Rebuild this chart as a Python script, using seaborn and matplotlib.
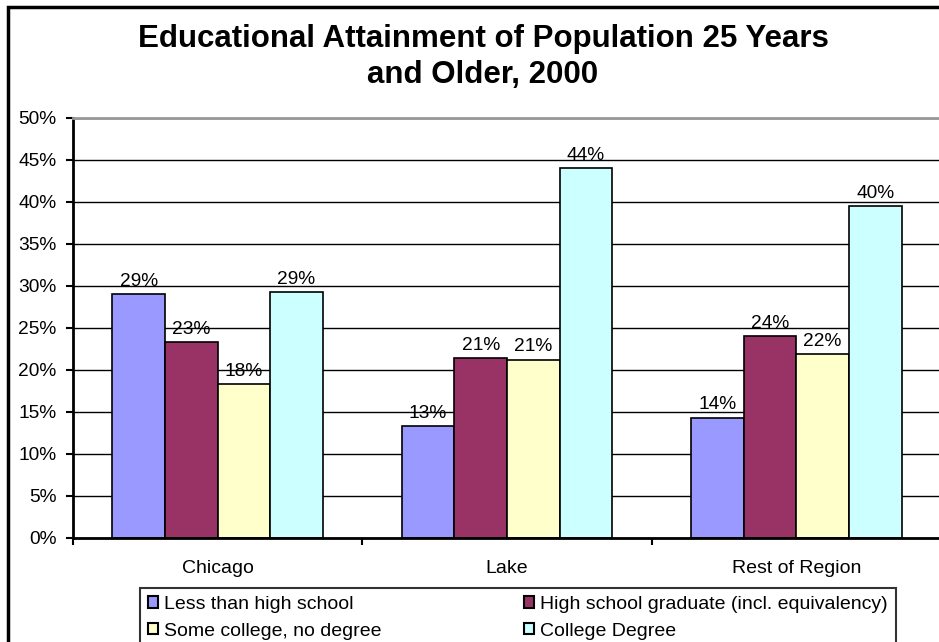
import matplotlib
matplotlib.use('Agg')
import matplotlib.pyplot as plt
import matplotlib.patches as mpatches
import pandas as pd
import seaborn as sns

# Data (share of population 25+, in %)
regions = ['Chicago', 'Lake', 'Rest of Region']
levels = ['Less than high school', 'High school graduate (incl. equivalency)',
          'Some college, no degree', 'College Degree']
less_than_hs = [29.0, 13.3, 14.3]
hs_graduate = [23.3, 21.4, 24.0]
some_college = [18.3, 21.2, 21.9]
college_degree = [29.2, 44.0, 39.5]
colors = ['#9999FF', '#993366', '#FFFFCC', '#CCFFFF']

df = pd.DataFrame({'region': regions * 4,
                   'level': [l for l in levels for _ in regions],
                   'value': less_than_hs + hs_graduate + some_college + college_degree})

sns.set_style('white')
plt.rcParams['font.family'] = ['Liberation Sans', 'DejaVu Sans']
plt.rcParams['text.color'] = 'black'
plt.rcParams['xtick.color'] = 'black'
plt.rcParams['ytick.color'] = 'black'

fig = plt.figure(figsize=(9.39, 6.42), dpi=100)
ax = fig.add_axes([73 / 939, 1 - 537.7 / 642, 868 / 939, 420 / 642])

sns.barplot(data=df, x='region', y='value', hue='level', order=regions, hue_order=levels,
            palette=colors, width=0.727, edgecolor='black', linewidth=1.2, saturation=1,
            ax=ax, legend=False)

# value labels above bars
for cont in ax.containers:
    ax.bar_label(cont, labels=[f'{v:.0f}%' for v in cont.datavalues], padding=3, fontsize=13.8)

ax.set_ylim(0, 50)
ax.set_xlim(-0.5, 2.5)
ax.set_yticks(range(0, 51, 5))
ax.set_yticklabels([f'{t}%' for t in range(0, 51, 5)], fontsize=13.8)
ax.yaxis.grid(True, color='black', linewidth=1)
ax.set_axisbelow(True)
ax.set_xlabel('')
ax.set_ylabel('')
ax.tick_params(axis='y', which='major', length=5, width=1.5, color='black', direction='out', left=True, pad=7)
ax.tick_params(axis='x', which='major', length=0, labelsize=14, pad=16)
ax.set_xticks([-0.5, 0.5, 1.5, 2.5], minor=True)
ax.tick_params(axis='x', which='minor', length=5, width=1.5, color='black', direction='out', bottom=True)

for side in ['left', 'bottom']:
    ax.spines[side].set_color('black')
    ax.spines[side].set_linewidth(2)
for side in ['top', 'right']:
    ax.spines[side].set_color('#999999')
    ax.spines[side].set_linewidth(2)

fig.text(483 / 939, 1 - 57 / 642, 'Educational Attainment of Population 25 Years\nand Older, 2000',
         ha='center', va='center', fontsize=22.5, fontweight='bold', linespacing=1.22)

# legend, column-wise order for two rows
handles = [mpatches.Patch(facecolor=c, edgecolor='black', linewidth=1.5) for c in colors]
order = [0, 2, 1, 3]
leg = fig.legend([handles[i] for i in order], [levels[i] for i in order], ncol=2,
                 loc='upper left', bbox_to_anchor=(140 / 939, 1 - 588 / 642),
                 fontsize=14, frameon=True, fancybox=False, handlelength=0.55, handleheight=0.55,
                 handletextpad=0.3, columnspacing=7.3, labelspacing=0.5, borderpad=0.4,
                 borderaxespad=0)
leg.get_frame().set_edgecolor('black')
leg.get_frame().set_linewidth(1.5)

# outer chart border (cropped at right and bottom)
fig.add_artist(mpatches.Rectangle((8 / 939, -0.1), 1.2, 1 - 7 / 642 + 0.1, transform=fig.transFigure,
                                  fill=False, edgecolor='black', linewidth=2.5, clip_on=False))

fig.savefig('out.png', dpi=100)
